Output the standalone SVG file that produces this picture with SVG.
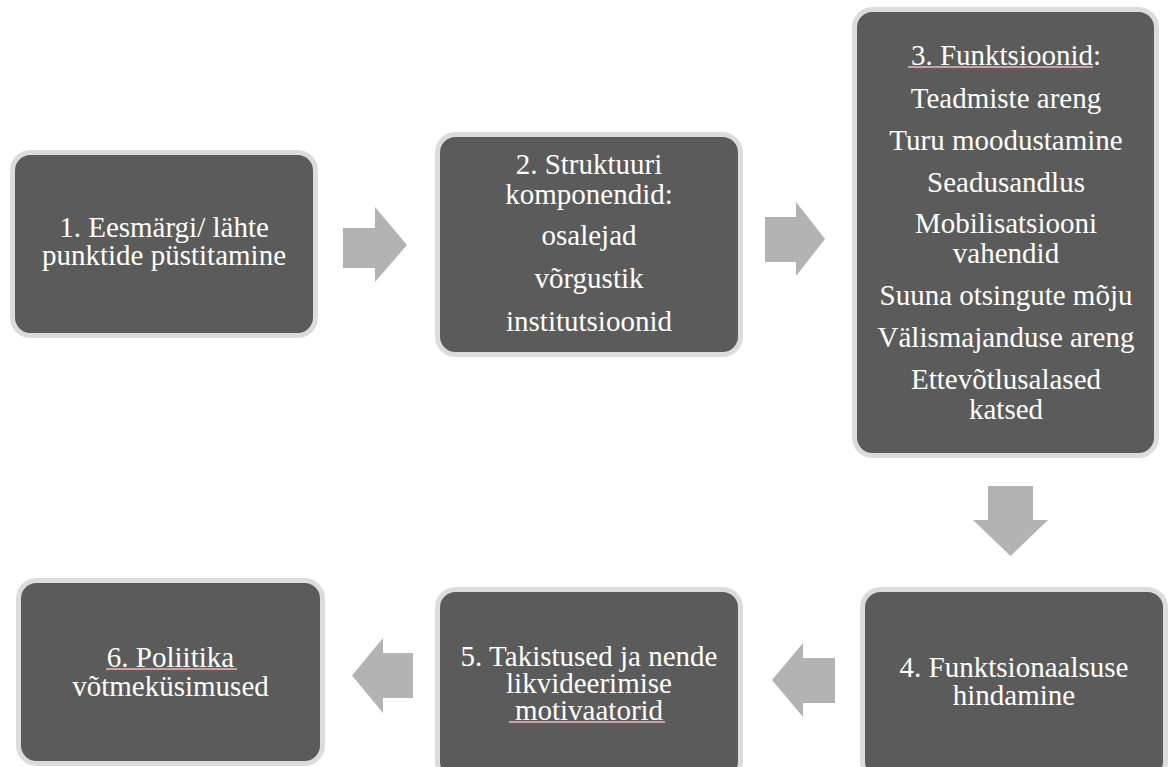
<svg xmlns="http://www.w3.org/2000/svg" width="1170" height="767" viewBox="0 0 1170 767">
<style>
.box{fill:#5b5b5b;stroke:#dcdcdc;stroke-width:5}
.t{font-family:'Liberation Serif','DejaVu Serif',serif;font-size:29px;fill:#ffffff;text-anchor:middle}
.arr{fill:#b3b3b3}
.ul{stroke:#ffffff;stroke-width:1.2}
.sp{stroke:#e03030;stroke-width:1.2;stroke-dasharray:1.5 1.5}
</style>
<rect width="1170" height="767" fill="#ffffff"/>
<g id="connectors">
<polygon class="arr" points="343,228 375,228 375,207 407,245 375,282 375,268 343,268"/>
<polygon class="arr" points="765,217 796,217 796,202 825,239 796,276 796,262 765,262"/>
<polygon class="arr" points="988,486 1033,486 1033,520 1048,520 1010.5,556 973,520 988,520"/>
<polygon class="arr" points="835,658 803,658 803,643 772,680 803,717 803,703 835,703"/>
<polygon class="arr" points="413,653 383,653 383,638 352,675.5 383,713 383,698 413,698"/>
</g>
<g id="node1">
<rect class="box" x="12.5" y="152.5" width="303" height="183" rx="18"/>
<text class="t" x="164" y="237">1. Eesmärgi/ lähte</text>
<text class="t" x="164" y="265">punktide püstitamine</text>
</g>
<g id="node2">
<rect class="box" x="437.5" y="134.5" width="303" height="220" rx="18"/>
<text class="t" x="589" y="174">2. Struktuuri</text>
<text class="t" x="589" y="204">komponendid:</text>
<text class="t" x="589" y="245">osalejad</text>
<text class="t" x="589" y="288">võrgustik</text>
<text class="t" x="589" y="331">institutsioonid</text>
</g>
<g id="node3">
<rect class="box" x="854.5" y="9.5" width="302" height="446" rx="18"/>
<text class="t" x="1006" y="65">3. Funktsioonid:</text>
<line class="ul" x1="908" y1="67" x2="1093" y2="67"/>
<line class="sp" x1="908" y1="69" x2="1093" y2="69"/>
<text class="t" x="1006" y="108">Teadmiste areng</text>
<text class="t" x="1006" y="150">Turu moodustamine</text>
<text class="t" x="1006" y="192">Seadusandlus</text>
<text class="t" x="1006" y="233">Mobilisatsiooni</text>
<text class="t" x="1006" y="263">vahendid</text>
<text class="t" x="1006" y="305">Suuna otsingute mõju</text>
<text class="t" x="1006" y="347">Välismajanduse areng</text>
<text class="t" x="1006" y="389">Ettevõtlusalased</text>
<text class="t" x="1006" y="419">katsed</text>
</g>
<g id="node4">
<rect class="box" x="862.5" y="589.5" width="303" height="190" rx="18"/>
<text class="t" x="1014" y="677">4. Funktsionaalsuse</text>
<text class="t" x="1014" y="705">hindamine</text>
</g>
<g id="node5">
<rect class="box" x="437.5" y="589.5" width="303" height="190" rx="18"/>
<text class="t" x="589" y="666">5. Takistused ja nende</text>
<text class="t" x="589" y="693">likvideerimise</text>
<text class="t" x="589" y="720">motivaatorid</text>
<line class="ul" x1="509" y1="722" x2="665" y2="722"/>
<line class="sp" x1="509" y1="724" x2="665" y2="724"/>
</g>
<g id="node6">
<rect class="box" x="18.5" y="580.5" width="304" height="183" rx="18"/>
<text class="t" x="170.5" y="667">6. Poliitika</text>
<line class="ul" x1="106" y1="669" x2="237" y2="669"/>
<line class="sp" x1="106" y1="671" x2="237" y2="671"/>
<text class="t" x="170.5" y="696">võtmeküsimused</text>
</g>
</svg>
